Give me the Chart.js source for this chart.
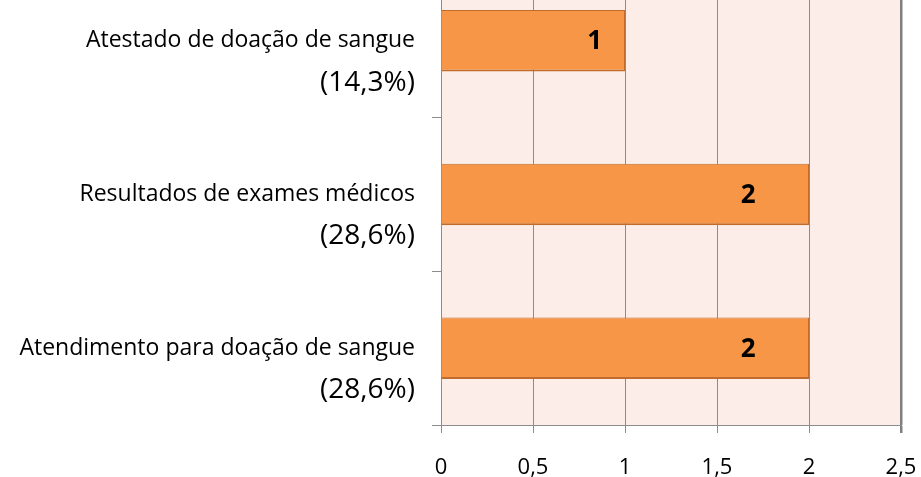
<!DOCTYPE html>
<html>
<head>
<meta charset="utf-8">
<script src="https://cdn.jsdelivr.net/npm/chart.js@4/dist/chart.umd.min.js"></script>
<style>
  html, body { margin: 0; padding: 0; background: #fff; overflow: hidden; }
  #wrap { position: absolute; left: 0; top: -36px; width: 921px; height: 513px; }
</style>
</head>
<body>
<div id="wrap"><canvas id="chart"></canvas></div>
<script>
// rótulos das categorias, percentuais (2ª linha) e valores
const categorias = ['Atestado de doação de sangue', 'Resultados de exames médicos', 'Atendimento para doação de sangue'];
const percentuais = ['(14,3%)', '(28,6%)', '(28,6%)'];
const valores = [1, 2, 2];
const eixoX = { min: 0, max: 2.5, passo: 0.5 };

const FONTE = '"Open Sans", "DejaVu Sans", sans-serif';

// fundo da área de plotagem
const fundoPlot = {
  id: 'fundoPlot',
  beforeDraw(chart) {
    const { ctx, chartArea: a } = chart;
    ctx.save();
    ctx.fillStyle = '#fcede8';
    ctx.fillRect(a.left, a.top, a.right - a.left, a.bottom - a.top);
    ctx.restore();
  }
};

// segunda linha do rótulo (percentual), maior que a primeira
const linhaPercentual = {
  id: 'linhaPercentual',
  afterDraw(chart) {
    const { ctx } = chart;
    const y = chart.scales.y;
    ctx.save();
    ctx.font = '28px ' + FONTE;
    ctx.fillStyle = '#000';
    ctx.textAlign = 'right';
    ctx.textBaseline = 'middle';
    percentuais.forEach((p, i) => {
      ctx.fillText(p, y.right - 26, y.getPixelForTick(i) + 42);
    });
    ctx.restore();
  }
};

// rótulos de valor dentro da barra
const rotulosValor = {
  id: 'rotulosValor',
  afterDatasetsDraw(chart) {
    const { ctx } = chart;
    const x = chart.scales.x;
    const meta = chart.getDatasetMeta(0);
    ctx.save();
    ctx.font = 'bold 26px ' + FONTE;
    ctx.fillStyle = '#000';
    ctx.textAlign = 'center';
    ctx.textBaseline = 'middle';
    meta.data.forEach((bar, i) => {
      const v = valores[i];
      ctx.fillText(String(v), x.getPixelForValue(v * 0.835), bar.y + 1);
    });
    ctx.restore();
  }
};

new Chart(document.getElementById('chart'), {
  type: 'bar',
  data: {
    labels: categorias,
    datasets: [{
      data: valores,
      backgroundColor: '#f79646',
      borderColor: '#bf6c2c',
      borderWidth: { top: 1, right: 1, left: 0, bottom: 2 },
      borderSkipped: false,
      categoryPercentage: 0.8,
      barPercentage: 0.5
    }]
  },
  options: {
    indexAxis: 'y',
    responsive: true,
    maintainAspectRatio: false,
    animation: false,
    layout: { padding: { left: 0, right: 20, top: 0, bottom: 0 } },
    plugins: {
      legend: { display: false },
      tooltip: { enabled: false }
    },
    scales: {
      x: {
        min: eixoX.min,
        max: eixoX.max,
        ticks: {
          stepSize: eixoX.passo,
          color: '#000',
          padding: 22,
          font: { family: FONTE, size: 22 },
          callback: v => String(v).replace('.', ',')
        },
        grid: {
          color: ctx => (ctx.tick && ctx.tick.value === eixoX.max) ? '#7f7f7f' : '#8c8c8c',
          lineWidth: ctx => (ctx.tick && ctx.tick.value === eixoX.max) ? 2.5 : 1,
          tickLength: 8,
          drawTicks: true
        },
        border: { display: true, color: '#8c8c8c', width: 1 },
        afterFit: s => { s.height = 52; s.paddingLeft = 0; s.paddingRight = 0; }
      },
      y: {
        ticks: {
          color: '#000',
          padding: 17,
          font: { family: FONTE, size: 23 }
        },
        grid: {
          offset: true,
          drawOnChartArea: false,
          drawTicks: true,
          tickLength: 9,
          color: '#8c8c8c'
        },
        border: { display: true, color: '#8c8c8c', width: 1 },
        afterFit: s => { s.width = 441; s.paddingTop = 0; s.paddingBottom = 0; }
      }
    }
  },
  plugins: [fundoPlot, rotulosValor, linhaPercentual]
});
</script>
</body>
</html>
